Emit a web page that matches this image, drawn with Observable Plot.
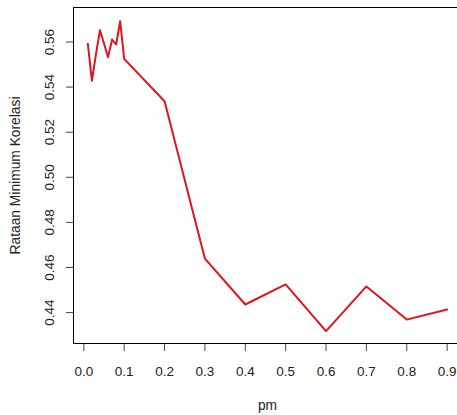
<!DOCTYPE html>
<html><head><meta charset="utf-8">
<script src="https://cdn.jsdelivr.net/npm/d3@7"></script>
<script src="https://cdn.jsdelivr.net/npm/@observablehq/plot@0.6"></script>
<style>html,body{margin:0;padding:0;background:#fff;overflow:hidden}svg{overflow:hidden}</style>
</head><body><div id="chart"></div>
<script>
const pm = [0.01, 0.02, 0.03, 0.04, 0.05, 0.06, 0.07, 0.08, 0.09, 0.1, 0.2, 0.3, 0.4, 0.5, 0.6, 0.7, 0.8, 0.9];
const rataan = [0.5592, 0.5428, 0.5545, 0.5652, 0.5593, 0.5533, 0.5611, 0.5589, 0.5692, 0.5525, 0.5337, 0.4639, 0.4436, 0.4525, 0.4318, 0.4516, 0.4369, 0.4414];
const xTicks = [0, 0.1, 0.2, 0.3, 0.4, 0.5, 0.6, 0.7, 0.8, 0.9];
const yTicks = [0.44, 0.46, 0.48, 0.50, 0.52, 0.54, 0.56];
const xTitle = "pm";
const yTitle = "Rataan Minimum Korelasi";

const data = pm.map((x, i) => ({pm: x, r: rataan[i]}));

const chart = Plot.plot({
  width: 457,
  height: 415,
  marginLeft: 73,
  marginTop: 7,
  marginBottom: 72,
  marginRight: -4,
  x: {domain: [-0.0256, 0.9356]},
  y: {domain: [0.4263, 0.5753]},
  style: {fontFamily: "'Liberation Sans', Arial, sans-serif", fontSize: "13.5px", color: "#222", background: "#fff"},
  marks: [
    Plot.axisX(xTicks, {tickSize: 8, tickPadding: 15, tickFormat: d => d.toFixed(1), label: null, stroke: "#444", fill: "#222", fontSize: 13.5}),
    Plot.axisY(yTicks, {tickSize: 7, tickFormat: () => "", label: null, stroke: "#444"}),
    Plot.text(yTicks, {y: d => d, text: d => d.toFixed(2), frameAnchor: "left", dx: -24, rotate: -90, textAnchor: "middle", lineAnchor: "middle", fill: "#222", fontSize: 13.5}),
    Plot.text([yTitle], {frameAnchor: "left", dx: -58, rotate: -90, textAnchor: "middle", lineAnchor: "middle", fill: "#222", fontSize: 13.8}),
    Plot.text([xTitle], {frameAnchor: "bottom", dy: 62, textAnchor: "middle", lineAnchor: "middle", fill: "#222", fontSize: 13.8}),
    Plot.line(data, {x: "pm", y: "r", stroke: "#e0151b", strokeWidth: 2}),
    Plot.frame({stroke: "#000"})
  ]
});
document.getElementById("chart").append(chart);
</script>
</body></html>
